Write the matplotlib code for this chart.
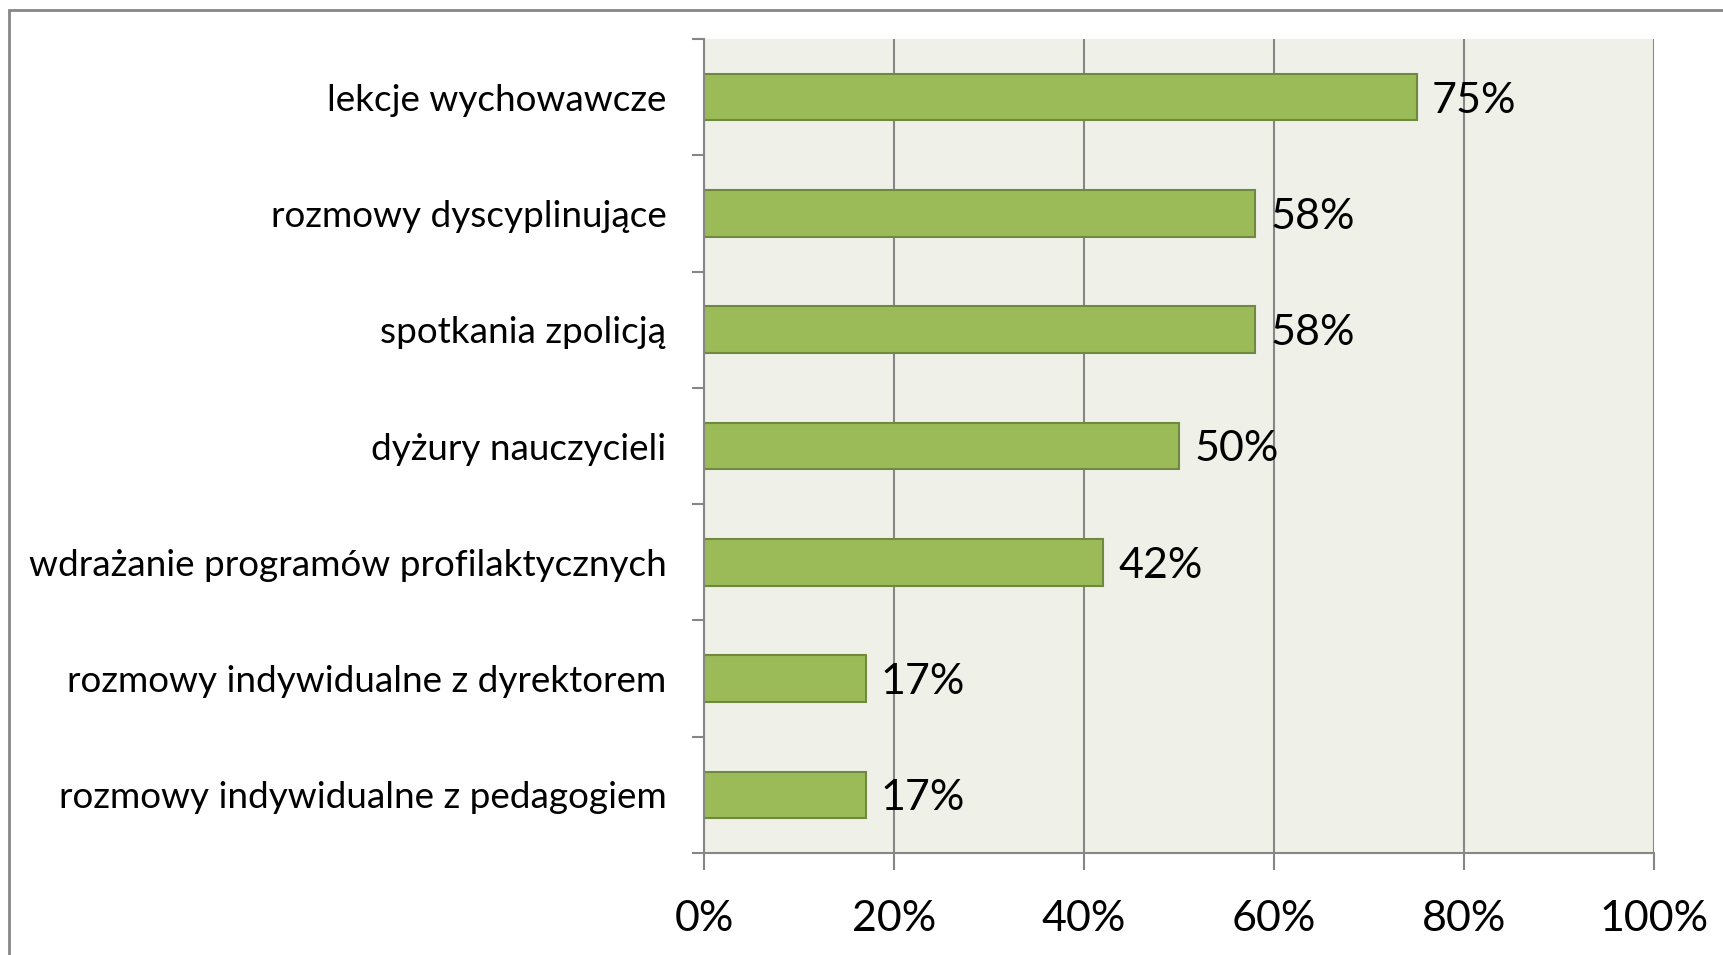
import matplotlib
matplotlib.use("Agg")
import matplotlib.pyplot as plt
from matplotlib.patches import Rectangle
import numpy as np

categories = [
    "lekcje wychowawcze",
    "rozmowy dyscyplinujące",
    "spotkania zpolicją",
    "dyżury nauczycieli",
    "wdrażanie programów profilaktycznych",
    "rozmowy indywidualne z dyrektorem",
    "rozmowy indywidualne z pedagogiem",
]
values = [75, 58, 58, 50, 42, 17, 17]
value_labels = ["75%", "58%", "58%", "50%", "42%", "17%", "17%"]
x_ticks = [0, 20, 40, 60, 80, 100]
x_tick_labels = ["0%", "20%", "40%", "60%", "80%", "100%"]

plt.rcParams['font.family'] = ['Lato', 'DejaVu Sans']

W, H = 1723, 955
fig = plt.figure(figsize=(W / 100, H / 100), dpi=100)
fig.patch.set_facecolor("white")

# outer chart border
fig.patches.append(Rectangle((9 / W, -0.05), 1.2, 1 - 10 / H + 0.05,
                             transform=fig.transFigure, fill=False,
                             edgecolor="#868686", linewidth=2.0, clip_on=False))

left, right, bottom, top = 704 / W, 1654 / W, 1 - 853 / H, 1 - 39 / H
ax = fig.add_axes([left, bottom, right - left, top - bottom])
ax.set_facecolor("#EFF1E8")

n = len(categories)
y = np.arange(n)
ax.barh(y, values, height=0.40, color="#9BBB59", edgecolor="#71893F", linewidth=1.5, zorder=3)

ax.set_xlim(0, 100)
ax.set_ylim(n - 0.5, -0.5)

ax.set_xticks(x_ticks)
ax.set_xticklabels(x_tick_labels, fontsize=31)
ax.tick_params(axis="x", length=12, width=1.5, color="#868686", pad=22)

ax.set_yticks(y)
ax.set_yticklabels(categories, fontsize=26.6)
ax.tick_params(axis="y", which="major", length=0, pad=27)
ax.set_yticks(np.arange(-0.5, n, 1.0), minor=True)
ax.tick_params(axis="y", which="minor", length=9, width=1.5, color="#868686")

ax.grid(axis="x", color="#868686", linewidth=1.5, zorder=1)
ax.set_axisbelow(True)

for s in ["top", "right"]:
    ax.spines[s].set_visible(False)
for s in ["left", "bottom"]:
    ax.spines[s].set_color("#868686")
    ax.spines[s].set_linewidth(1.5)
    ax.spines[s].set_zorder(4)

for yi, v, lab in zip(y, values, value_labels):
    ax.annotate(lab, xy=(v, yi), xytext=(11, -2.5), textcoords="offset points",
                va="center", ha="left", fontsize=31, color="black", zorder=5)

fig.savefig("out.png", dpi=100)
